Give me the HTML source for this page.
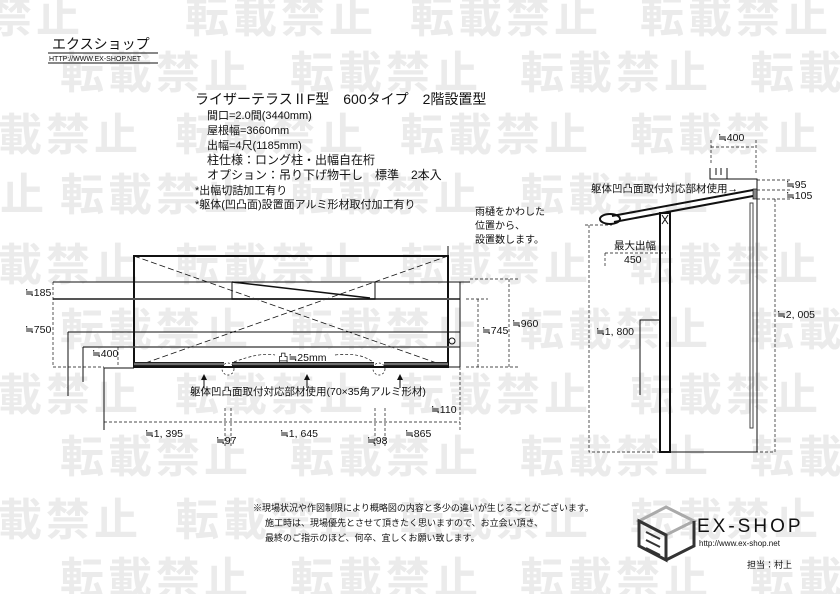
<!DOCTYPE html>
<html><head><meta charset="utf-8"><style>
html,body{margin:0;padding:0;background:#fff;}
svg{display:block;}
text{font-family:"Liberation Sans","Noto Sans CJK JP",sans-serif;fill:#111;}
.wm{fill:#ebebeb;font-size:44px;font-weight:bold;letter-spacing:4px;}
</style></head><body>
<svg width="840" height="594" viewBox="0 0 840 594" xmlns="http://www.w3.org/2000/svg">
<g class="wm">
<text class="wm" x="-60" y="32">載禁止</text><text class="wm" x="185" y="32">転載禁止</text><text class="wm" x="410" y="32">転載禁止</text><text class="wm" x="640" y="32">転載禁止</text>
<text class="wm" x="60" y="88">転載禁止</text><text class="wm" x="290" y="88">転載禁止</text><text class="wm" x="520" y="88">転載禁止</text><text class="wm" x="750" y="88">転載</text>
<text class="wm" x="-50" y="150">転載禁止</text><text class="wm" x="175" y="150">転載禁止</text><text class="wm" x="400" y="150">転載禁止</text><text class="wm" x="630" y="150">転載禁止</text>
<text class="wm" x="0" y="210">止</text><text class="wm" x="60" y="210">転載禁止</text><text class="wm" x="290" y="210">転載禁止</text><text class="wm" x="520" y="210">転載禁止</text>
<text class="wm" x="-50" y="280">転載禁止</text><text class="wm" x="175" y="280">転載禁止</text><text class="wm" x="400" y="280">転載禁止</text><text class="wm" x="630" y="280">転載禁止</text>
<text class="wm" x="60" y="345">転載禁止</text><text class="wm" x="290" y="345">転載禁止</text><text class="wm" x="520" y="345">転載禁止</text><text class="wm" x="750" y="345">転載</text>
<text class="wm" x="-50" y="410">転載禁止</text><text class="wm" x="175" y="410">転載禁止</text><text class="wm" x="400" y="410">転載禁止</text><text class="wm" x="630" y="410">転載禁止</text>
<text class="wm" x="60" y="472">転載禁止</text><text class="wm" x="290" y="472">転載禁止</text><text class="wm" x="520" y="472">転載禁止</text><text class="wm" x="750" y="472">転載</text>
<text class="wm" x="-50" y="535">転載禁止</text><text class="wm" x="175" y="535">転載禁止</text><text class="wm" x="400" y="535">転載禁止</text><text class="wm" x="630" y="535">転載禁止</text>
<text class="wm" x="60" y="594">転載禁止</text><text class="wm" x="290" y="594">転載禁止</text><text class="wm" x="520" y="594">転載禁止</text><text class="wm" x="750" y="594">転載</text>
</g>

<!-- header -->
<text x="52" y="49" font-size="14">エクスショップ</text>
<line x1="48" y1="53" x2="158" y2="53" stroke="#111"/>
<text x="49" y="61" font-size="7">HTTP://WWW.EX-SHOP.NET</text>
<line x1="48" y1="63" x2="158" y2="63" stroke="#111"/>

<text x="195" y="104" font-size="14">ライザーテラスⅡF型　600タイプ　2階設置型</text>
<g font-size="11">
<text x="207" y="119">間口=2.0間(3440mm)</text>
<text x="207" y="134">屋根幅=3660mm</text>
<text x="207" y="149">出幅=4尺(1185mm)</text>
<text x="207" y="164" font-size="12">柱仕様：ロング柱・出幅自在桁</text>
<text x="207" y="179" font-size="12">オプション：吊り下げ物干し　標準　2本入</text>
<text x="195" y="194">*出幅切詰加工有り</text>
<text x="195" y="208">*躯体(凹凸面)設置面アルミ形材取付加工有り</text>
</g>
<g font-size="10">
<text x="475" y="215">雨樋をかわした</text>
<text x="475" y="229">位置から、</text>
<text x="475" y="243">設置数します。</text>
</g>
<line x1="448" y1="246" x2="448" y2="255" stroke="#111"/>

<!-- front view -->
<g fill="none" stroke="#111">
<rect x="134" y="256" width="314" height="111" stroke-width="2"/>
<line x1="134" y1="256" x2="448" y2="367" stroke-width="0.7" stroke-dasharray="6,3"/>
<line x1="448" y1="256" x2="134" y2="367" stroke-width="0.7" stroke-dasharray="6,3"/>
<line x1="53" y1="282" x2="470" y2="282"/>
<line x1="53" y1="299" x2="460" y2="299" stroke="#555" stroke-width="2"/>
<line x1="68" y1="332" x2="460" y2="332"/>
<line x1="83" y1="347" x2="460" y2="347" stroke="#555" stroke-width="1.5"/>
<rect x="232" y="282" width="143" height="17"/>
<line x1="232" y1="282" x2="370" y2="298" stroke-width="1.5"/>
<path d="M134 364 H224 M232 364 H374 M384 364 H448" stroke-width="4" stroke="#222"/>
<path d="M134 364 H224 M232 364 H374 M384 364 H448" stroke-width="1.5" stroke="#888"/>
<circle cx="228" cy="369" r="6" stroke-dasharray="2,2" stroke-width="0.7"/>
<circle cx="379" cy="369" r="6" stroke-dasharray="2,2" stroke-width="0.7"/>
<path d="M234 362 Q260 352 275 355 M335 355 Q360 352 373 362" stroke-dasharray="3,2" stroke-width="0.7"/>
<path d="M460 282 V367 M460 282 H470" />
<line x1="448" y1="367" x2="460" y2="367"/>
<circle cx="452" cy="341" r="3"/>
<path d="M68 332 V396 M83 347 V382 M104 430 V368 H134"/>
<g stroke-dasharray="3,2" stroke-width="0.7">
<path d="M53 282 V367 H104 M118 347 V367"/>
<path d="M104 422 H460 M225 408 V448 M231 408 V448 M375 408 V448 M385 408 V448 M460 367 V430"/>
<path d="M466 299 H488 M478 299 V367 M466 367 H488"/>
<path d="M470 279 H520 M509 279 V367 M490 367 H520"/>
</g>
<path d="M204 388 V378 M307 388 V378 M400 388 V378"/>
</g>
<path d="M201 380 L204 374 L207 380Z M304 380 L307 374 L310 380Z M397 380 L400 374 L403 380Z" fill="#111"/>
<g font-size="10.5">
<text x="25" y="296">≒185</text>
<text x="25" y="333">≒750</text>
<text x="92" y="357">≒400</text>
<text x="278" y="361">凸≒25mm</text>
<text x="190" y="395">躯体凹凸面取付対応部材使用(70×35角アルミ形材)</text>
<text x="431" y="413">≒110</text>
<text x="145" y="437">≒1, 395</text>
<text x="216" y="444">≒97</text>
<text x="280" y="437">≒1, 645</text>
<text x="367" y="444">≒98</text>
<text x="405" y="437">≒865</text>
<text x="482" y="334">≒745</text>
<text x="512" y="327">≒960</text>
</g>

<!-- side view -->
<g fill="none" stroke="#111">
<path d="M710 168 V179 H727 V168 M716 168 V175 M721 168 V175" stroke-width="1"/>
<path d="M727 179 H757 V452 H660"/>
<rect x="660" y="213" width="10" height="239" stroke-width="2"/>
<path d="M662 215 L668 224 M668 215 L662 224" />
<line x1="612" y1="216" x2="753" y2="190" stroke-width="2"/>
<line x1="614" y1="222" x2="753" y2="196" stroke-width="2"/>
<ellipse cx="610" cy="219" rx="10" ry="5" stroke-width="2"/>
<rect x="750" y="203" width="3" height="225" stroke="#444"/>
<path d="M640 395 V320 H660" />
<g stroke-dasharray="3,2" stroke-width="0.7">
<path d="M711 147 H756 M711 140 V165 M756 140 V175"/>
<path d="M757 180 H790 M757 190 H790 M757 199 H790 M775 199 V452 H740"/>
<path d="M585 225 H612 M589 225 V452 H660"/>
<path d="M605 253 H666 M605 253 V268"/>
</g>
</g>
<rect x="753" y="189" width="4" height="10" fill="#888" stroke="#111" stroke-width="0.7"/>
<g font-size="10.5">
<text x="718" y="141">≒400</text>
<text x="591" y="192">躯体凹凸面取付対応部材使用→</text>
<text x="786" y="188">≒95</text>
<text x="786" y="199">≒105</text>
<text x="614" y="249">最大出幅</text>
<text x="624" y="263">450</text>
<text x="596" y="335">≒1, 800</text>
<text x="777" y="318">≒2, 005</text>
</g>

<!-- footer -->
<g font-size="9">
<text x="253" y="511">※現場状況や作図制限により概略図の内容と多少の違いが生じることがございます。</text>
<text x="265" y="526">施工時は、現場優先とさせて頂きたく思いますので、お立会い頂き、</text>
<text x="265" y="541">最終のご指示のほど、何卒、宜しくお願い致します。</text>
</g>
<g fill="none" stroke-width="3">
<path d="M666 507 L694 521 L666 535 L639 521Z" stroke="#aaa"/>
<path d="M639 521 V546 L666 560 V535Z" stroke="#333"/>
<path d="M694 521 V546 L666 560" stroke="#333"/>
<path d="M646 532 L660 539 M646 540 L660 547 M646 548 L660 555" stroke="#333" stroke-width="2"/>
</g>
<text x="697" y="532" font-size="19" letter-spacing="3">EX-SHOP</text>
<text x="699" y="546" font-size="8">http://www.ex-shop.net</text>
<text x="747" y="568" font-size="9">担当：村上</text>
</svg>
</body></html>
